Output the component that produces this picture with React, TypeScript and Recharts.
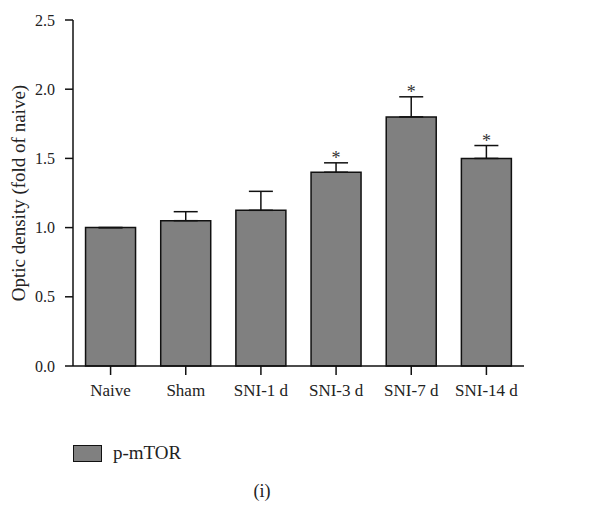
import { BarChart, Bar, XAxis, YAxis, ErrorBar, LabelList } from 'recharts'

const groups = ['Naive', 'Sham', 'SNI-1 d', 'SNI-3 d', 'SNI-7 d', 'SNI-14 d']
const pmtor = [1.0, 1.05, 1.125, 1.4, 1.8, 1.5]
const sem = [0, 0.065, 0.137, 0.068, 0.145, 0.093]
const marks = ['', '', '', '*', '*', '*']
const yTicks = [0, 0.5, 1.0, 1.5, 2.0, 2.5]

const data = groups.map((name, i) => ({ name, value: pmtor[i], err: [0, sem[i]], sig: marks[i] }))

const FONT = '"Liberation Serif", "Times New Roman", serif'

function Star(props: any) {
  const { x, y, width, height, index } = props
  const mark = marks[index]
  if (!mark) return null
  const pxPerUnit = height / pmtor[index]
  const top = y - sem[index] * pxPerUnit
  return (
    <text x={x + width / 2} y={top + 1} textAnchor="middle" fontFamily={FONT} fontSize={18} fill="#333">
      {mark}
    </text>
  )
}

export default function App() {
  return (
    <div style={{ position: 'absolute', left: 0, top: 0, width: 602, height: 506, background: '#fff' }}>
      <BarChart width={602} height={506} data={data} barCategoryGap="16.7%"
        margin={{ top: 20, right: 78, bottom: 110, left: 13 }}>
        <XAxis dataKey="name" height={30} axisLine={{ stroke: '#111', strokeWidth: 1.5 }} tickLine={{ stroke: '#111', strokeWidth: 1.5 }}
          tickSize={9} tickMargin={9} interval={0}
          tick={{ fontFamily: FONT, fontSize: 17, fill: '#222' }} />
        <YAxis width={60} domain={[0, 2.5]} ticks={yTicks} tickFormatter={(v) => v.toFixed(1)}
          axisLine={{ stroke: '#111', strokeWidth: 1.5 }} tickLine={{ stroke: '#111', strokeWidth: 1.5 }}
          tickSize={8} tickMargin={10} tick={{ fontFamily: FONT, fontSize: 16, fill: '#222' }}
          label={{ value: 'Optic density (fold of naive)', angle: -90, position: 'insideLeft', offset: 5,
            style: { fontFamily: FONT, fontSize: 19, fill: '#222', textAnchor: 'middle' } }} />
        <Bar dataKey="value" name="p-mTOR" fill="#808080" stroke="#111" strokeWidth={1.5} isAnimationActive={false}>
          <ErrorBar dataKey="err" direction="y" width={12} stroke="#111" strokeWidth={1.5} />
          <LabelList dataKey="sig" content={<Star />} />
        </Bar>
      </BarChart>
      <div style={{ position: 'absolute', left: 73, top: 442, display: 'flex', alignItems: 'center', fontFamily: FONT, fontSize: 19, color: '#222' }}>
        <span style={{ width: 27, height: 15, background: '#808080', border: '1.5px solid #111', display: 'inline-block' }} />
        <span style={{ marginLeft: 11 }}>p-mTOR</span>
      </div>
      <div style={{ position: 'absolute', left: 0, width: 524, top: 481, textAlign: 'center', fontFamily: FONT, fontSize: 18, color: '#222' }}>
        (i)
      </div>
    </div>
  )
}
